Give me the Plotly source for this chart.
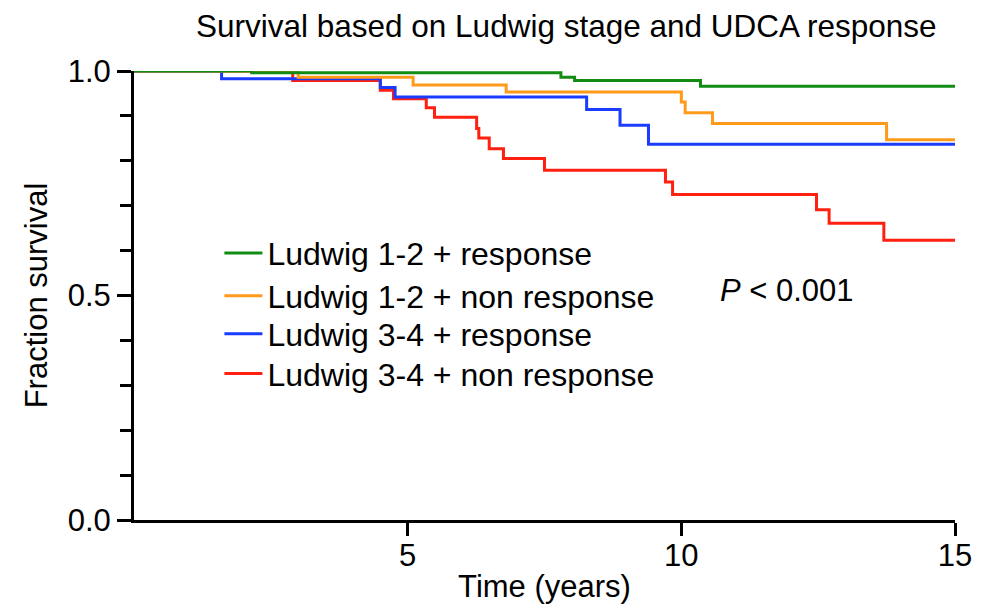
import plotly.graph_objects as go

# Data (Kaplan-Meier step points)
green_t = [0, 2.15, 7.8, 8.05, 10.35, 15]
green_s = [1.0, 0.996, 0.986, 0.979, 0.966, 0.966]

orange_t = [0, 3.0, 5.1, 6.8, 10.0, 10.07, 10.57, 13.75, 15]
orange_s = [1.0, 0.986, 0.969, 0.953, 0.931, 0.907, 0.883, 0.847, 0.847]

blue_t = [0, 1.6, 4.5, 4.77, 8.27, 8.88, 9.4, 15]
blue_s = [1.0, 0.983, 0.963, 0.942, 0.914, 0.879, 0.837, 0.837]

red_t = [0, 2.9, 4.5, 4.74, 5.34, 5.49, 6.26, 6.3, 6.49, 6.75, 7.5, 9.71, 9.84, 12.47, 12.7, 13.7, 15]
red_s = [1.0, 0.979, 0.957, 0.938, 0.918, 0.897, 0.872, 0.851, 0.827, 0.805, 0.779, 0.753, 0.725, 0.691, 0.661, 0.623, 0.623]

series_names = ["Ludwig 1-2 + response", "Ludwig 1-2 + non response",
                "Ludwig 3-4 + response", "Ludwig 3-4 + non response"]
series_colors = ["#138C13", "#FF9A1A", "#1A3CFF", "#FF2010"]

x_ticks = [5, 10, 15]
y_major = [0, 0.5, 1.0]
y_labels = ["0.0", "0.5", "1.0"]

FONT = "Liberation Sans, Arial, sans-serif"
legend_ids = ["legend", "legend2", "legend3", "legend4"]
legend_y = [0.5944, 0.4989, 0.4144, 0.3256]

fig = go.Figure()
data = [(green_t, green_s), (orange_t, orange_s), (blue_t, blue_s), (red_t, red_s)]
order = [3, 2, 1, 0]  # red drawn first, green on top
for i in order:
    t, s = data[i]
    fig.add_trace(go.Scatter(
        x=t, y=s, mode="lines", name=series_names[i],
        line=dict(color=series_colors[i], width=3, shape="hv"),
        cliponaxis=False, legend=legend_ids[i], showlegend=True,
    ))

legend_common = dict(x=0.104, xanchor="left", yanchor="middle",
                     font=dict(size=32, family=FONT, color="black"),
                     bgcolor="rgba(0,0,0,0)", itemwidth=38)

layout_legends = {}
for lid, ly in zip(legend_ids, legend_y):
    layout_legends[lid] = dict(legend_common, y=ly)

fig.update_layout(
    width=997, height=609,
    margin=dict(l=134, r=42, t=70.5, b=88.5),
    paper_bgcolor="white", plot_bgcolor="white",
    font=dict(family=FONT, color="black", size=31),
    title=dict(text="Survival based on Ludwig stage and UDCA response",
               x=0.568, xref="container", xanchor="center",
               y=0.958, yref="container", yanchor="middle",
               font=dict(size=31.5, family=FONT)),
    showlegend=True,
    xaxis=dict(range=[0, 15], tickvals=x_ticks, ticktext=[str(v) for v in x_ticks],
               showline=True, linecolor="black", linewidth=3, mirror=False,
               ticks="outside", ticklen=13, tickwidth=3, tickcolor="black",
               ticklabelstandoff=-7,
               showgrid=False, zeroline=False, automargin=False,
               title=dict(text="Time (years)", font=dict(size=31), standoff=4),
               tickfont=dict(size=31)),
    yaxis=dict(range=[0, 1], tickvals=y_major, ticktext=y_labels,
               showline=True, linecolor="black", linewidth=3,
               ticks="outside", ticklen=14, tickwidth=3, tickcolor="black",
               minor=dict(dtick=0.1, ticks="outside", ticklen=11, tickwidth=3, tickcolor="black", showgrid=False),
               showgrid=False, zeroline=False, automargin=False,
               title=dict(text="Fraction survival", font=dict(size=31), standoff=11),
               tickfont=dict(size=31)),
    **layout_legends,
)

fig.add_annotation(text="<i>P</i> < 0.001", x=13.2, y=0.512, xref="x", yref="y",
                   showarrow=False, xanchor="right", yanchor="middle",
                   font=dict(size=31, family=FONT, color="black"))

fig.write_html("out.html")
